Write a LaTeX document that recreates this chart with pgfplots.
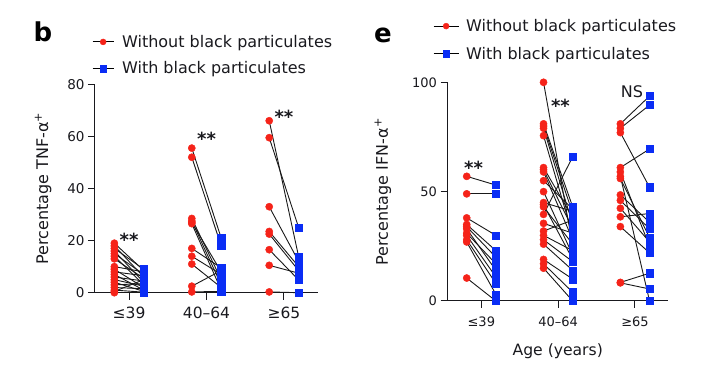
\documentclass[border=0pt]{standalone}
\usepackage{pgfplots}
\pgfplotsset{compat=1.18}
\usepackage{pgfplotstable}
\usepackage{fontspec}
\setmainfont{DejaVu Sans}
\definecolor{myred}{RGB}{245,35,25}
\definecolor{myblue}{RGB}{10,45,245}
\definecolor{txt}{RGB}{25,25,30}

\pgfplotstableread{
g r b
0 19 8.5
0 18 6
0 17 9
0 16 4
0 15 7
0 14 3
0 13 5.5
0 10 8
0 9 2
0 8 6.5
0 7 1
0 6 4.5
0 5 2.5
0 4 0.5
0 3 3.5
0 2 1.5
0 1 0.2
0 0.5 5
0 0 0
1 55.5 21
1 52 18
1 28.5 5
1 27.5 3
1 27 8
1 26.5 1
1 17 9.5
1 14 7
1 11 2
1 2.5 8.5
1 0.3 0.5
2 66 13.8
2 59.5 25
2 33 12
2 23.5 10
2 22.5 8.5
2 16.5 4.9
2 10.5 7.5
2 0.3 0
}\tabb

\pgfplotstableread{
g r b
0 57 53
0 49 49
0 38 30
0 35 23
0 34 20
0 33 14
0 31 17
0 30 11
0 28 8
0 27 3
0 10.5 0
1 100 25
1 81 43
1 80 40
1 79 35
1 75.6 30
1 61 38
1 60 33
1 59 28
1 55 42
1 50 21
1 45 41
1 44 19
1 43 26
1 39.6 66
1 35.5 31
1 32 37
1 30 23
1 28 18
1 26 14
1 19 10
1 17 4
1 15 0
2 81 93.7
2 79 89.6
2 77 52
2 61 69.5
2 59 25
2 57 0
2 56 29
2 48.5 36
2 46 33
2 42.4 27
2 38.5 40
2 34 22
2 8.5 12.7
2 8.3 5.5
}\tabe

\pgfplotsset{
  pairstyle/.style={
    axis lines*=left,
    axis line style={line width=1pt, color=txt},
    tick align=outside, major tick length=7pt,
    tick style={line width=1pt, color=txt},
    xtick={0,1,2}, xticklabels={≤39,40–64,≥65},
    scale only axis, clip=false,
    /pgf/number format/assume math mode=true,
    legend cell align=left,
    every tick label/.append style={text=txt},
  }
}

\begin{document}
\begin{tikzpicture}[x=1pt,y=1pt]
\path[use as bounding box] (0,0) rectangle (707,366);

\node[font=\bfseries\fontsize{26}{26}\selectfont, text=black] at (43,334) {b};
\node[font=\bfseries\fontsize{26}{26}\selectfont, text=black] at (383,331) {e};

% ---------- panel b ----------
\begin{axis}[pairstyle,
  at={(95pt,73.3pt)}, anchor=south west,
  width=223pt, height=208.4pt,
  xmin=-0.44, xmax=2.44, ymin=0, ymax=80,
  ytick={0,20,40,60,80},
  yticklabel style={font=\fontsize{13.5}{16}\selectfont},
  xticklabel style={font=\fontsize{15.5}{18}\selectfont, yshift=-4pt},
  ylabel={Percentage TNF-α\textsuperscript{+}},
  ylabel style={at={(axis description cs:-0.233,0.5)}, anchor=center, font=\fontsize{16}{19}\selectfont, text=txt},
  legend image code/.code={\draw[black,line width=0.9pt] (0pt,0pt)--(21pt,0pt); \draw[#1] plot coordinates {(10.5pt,0pt)};},
  legend style={at={(axis description cs:-0.0135,1.237)}, anchor=north west, draw=none, fill=none,
    inner sep=0pt, row sep=13pt, column sep=8pt, font=\fontsize{16}{19}\selectfont, text=txt,
    nodes={inner sep=0pt}},
]
\addlegendimage{color=myred, mark=*, mark size=3pt}
\addlegendentry{Without black particulates}
\addlegendimage{color=myblue, mark=square*, mark size=3.2pt}
\addlegendentry{With black particulates}

\addplot[forget plot, black!90, line width=0.9pt, quiver={u=0.38, v=\thisrow{b}-\thisrow{r}}]
  table[x expr=\thisrow{g}-0.19, y=r] {\tabb};
\addplot[forget plot, only marks, mark=*, mark size=3.6pt, color=myred]
  table[x expr=\thisrow{g}-0.19, y=r] {\tabb};
\addplot[forget plot, only marks, mark=square*, mark size=3.6pt, color=myblue]
  table[x expr=\thisrow{g}+0.19, y=b] {\tabb};

\node[font=\bfseries\fontsize{18}{18}\selectfont, text=txt, yshift=-4pt] at (axis cs:0,21.8) {**};
\node[font=\bfseries\fontsize{18}{18}\selectfont, text=txt, yshift=-4pt] at (axis cs:1,60.5) {**};
\node[font=\bfseries\fontsize{18}{18}\selectfont, text=txt, yshift=-4pt] at (axis cs:2,69) {**};
\end{axis}

% ---------- panel e ----------
\begin{axis}[pairstyle,
  at={(447.5pt,65pt)}, anchor=south west,
  width=220.5pt, height=218.7pt,
  xmin=-0.44, xmax=2.43, ymin=0, ymax=100,
  ytick={0,50,100},
  yticklabel style={font=\fontsize{13}{16}\selectfont},
  xticklabel style={font=\fontsize{13}{16}\selectfont, yshift=-5pt},
  ylabel={Percentage IFN-α\textsuperscript{+}},
  ylabel style={at={(axis description cs:-0.2925,0.5)}, anchor=center, font=\fontsize{16}{19}\selectfont, text=txt},
  xlabel={Age (years)},
  xlabel style={at={(axis description cs:0.5,-0.228)}, anchor=center, font=\fontsize{15.6}{19}\selectfont, text=txt},
  legend image code/.code={\draw[black,line width=0.9pt] (0pt,0pt)--(25pt,0pt); \draw[#1] plot coordinates {(12.5pt,0pt)};},
  legend style={at={(axis description cs:-0.0658,1.289)}, anchor=north west, draw=none, fill=none,
    inner sep=0pt, row sep=14pt, column sep=7pt, font=\fontsize{16}{19}\selectfont, text=txt,
    nodes={inner sep=0pt}},
]
\addlegendimage{color=myred, mark=*, mark size=3pt}
\addlegendentry{Without black particulates}
\addlegendimage{color=myblue, mark=square*, mark size=3.2pt}
\addlegendentry{With black particulates}

\addplot[forget plot, black!90, line width=0.9pt, quiver={u=0.38, v=\thisrow{b}-\thisrow{r}}]
  table[x expr=\thisrow{g}-0.19, y=r] {\tabe};
\addplot[forget plot, only marks, mark=*, mark size=3.6pt, color=myred]
  table[x expr=\thisrow{g}-0.19, y=r] {\tabe};
\addplot[forget plot, only marks, mark=square*, mark size=3.6pt, color=myblue]
  table[x expr=\thisrow{g}+0.19, y=b] {\tabe};

\node[font=\bfseries\fontsize{18}{18}\selectfont, text=txt, yshift=-4pt] at (axis cs:-0.1,62.6) {**};
\node[font=\bfseries\fontsize{18}{18}\selectfont, text=txt, yshift=-4pt] at (axis cs:1.03,91) {**};
\node[font=\fontsize{16}{16}\selectfont, text=txt] at (axis cs:1.96,95.7) {NS};
\end{axis}
\end{tikzpicture}
\end{document}
